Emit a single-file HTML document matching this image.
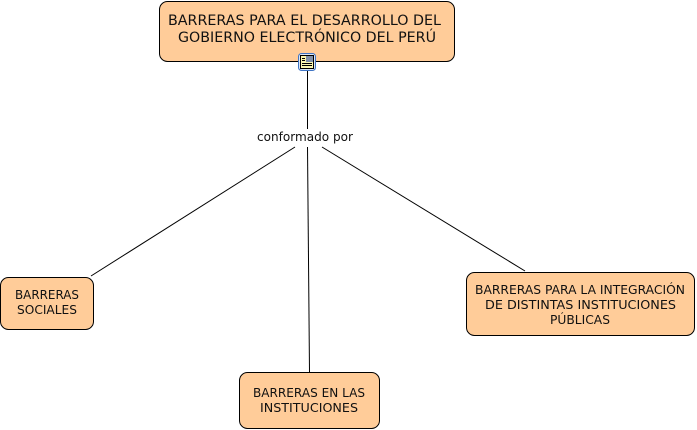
<!DOCTYPE html>
<html>
<head>
<meta charset="utf-8">
<style>
html,body{margin:0;padding:0;background:#fff;width:697px;height:430px;overflow:hidden}
svg{display:block}
text{font-family:"DejaVu Sans","Liberation Sans",sans-serif;fill:#111;font-size:12.5px}
.t{font-size:14px}
rect.n{fill:#ffcc99;stroke:#000;stroke-width:1}
line{stroke:#000;stroke-width:1}
</style>
</head>
<body>
<svg width="697" height="430" viewBox="0 0 697 430" xmlns="http://www.w3.org/2000/svg">
<rect width="697" height="430" fill="#fff"/>
<line x1="307.5" y1="70" x2="307.5" y2="129"/>
<line x1="307.5" y1="147" x2="309.5" y2="372"/>
<line x1="295" y1="147" x2="91" y2="276"/>
<line x1="322" y1="147" x2="525" y2="271"/>

<rect class="n" x="159.5" y="1.5" width="295" height="60" rx="8"/>
<rect class="n" x="0.5" y="277.5" width="93" height="52" rx="8"/>
<rect class="n" x="239.5" y="372.5" width="140" height="56" rx="8"/>
<rect class="n" x="466.5" y="272.5" width="228" height="63" rx="8"/>

<text class="t" x="168" y="25" textLength="273" lengthAdjust="spacingAndGlyphs">BARRERAS PARA EL DESARROLLO DEL</text>
<text class="t" x="178" y="42" textLength="258" lengthAdjust="spacingAndGlyphs">GOBIERNO ELECTRÓNICO DEL PERÚ</text>
<text x="257" y="141" textLength="96" lengthAdjust="spacingAndGlyphs">conformado por</text>
<text x="15" y="299" textLength="64" lengthAdjust="spacingAndGlyphs">BARRERAS</text>
<text x="17" y="314" textLength="60" lengthAdjust="spacingAndGlyphs">SOCIALES</text>
<text x="253" y="397" textLength="112" lengthAdjust="spacingAndGlyphs">BARRERAS EN LAS</text>
<text x="260" y="412" textLength="98" lengthAdjust="spacingAndGlyphs">INSTITUCIONES</text>
<text x="475" y="294" textLength="210" lengthAdjust="spacingAndGlyphs">BARRERAS PARA LA INTEGRACIÓN</text>
<text x="485" y="309" textLength="191" lengthAdjust="spacingAndGlyphs">DE DISTINTAS INSTITUCIONES</text>
<text x="550" y="324" textLength="60" lengthAdjust="spacingAndGlyphs">PÚBLICAS</text>

<rect x="298.5" y="53.5" width="17" height="17" rx="3" fill="#dbe6f5" stroke="#3f74c4" stroke-width="1"/>
<rect x="300.5" y="55.5" width="13" height="13" fill="#fbf7b0" stroke="#000" stroke-width="1"/>
<rect x="306" y="56" width="7" height="6" fill="#7f8fa8"/>
<rect x="302" y="58" width="3" height="1" fill="#000"/>
<rect x="302" y="60" width="3" height="1" fill="#000"/>
<rect x="302" y="63" width="10" height="1" fill="#000"/>
<rect x="302" y="65" width="10" height="1" fill="#000"/>
</svg>
</body>
</html>
